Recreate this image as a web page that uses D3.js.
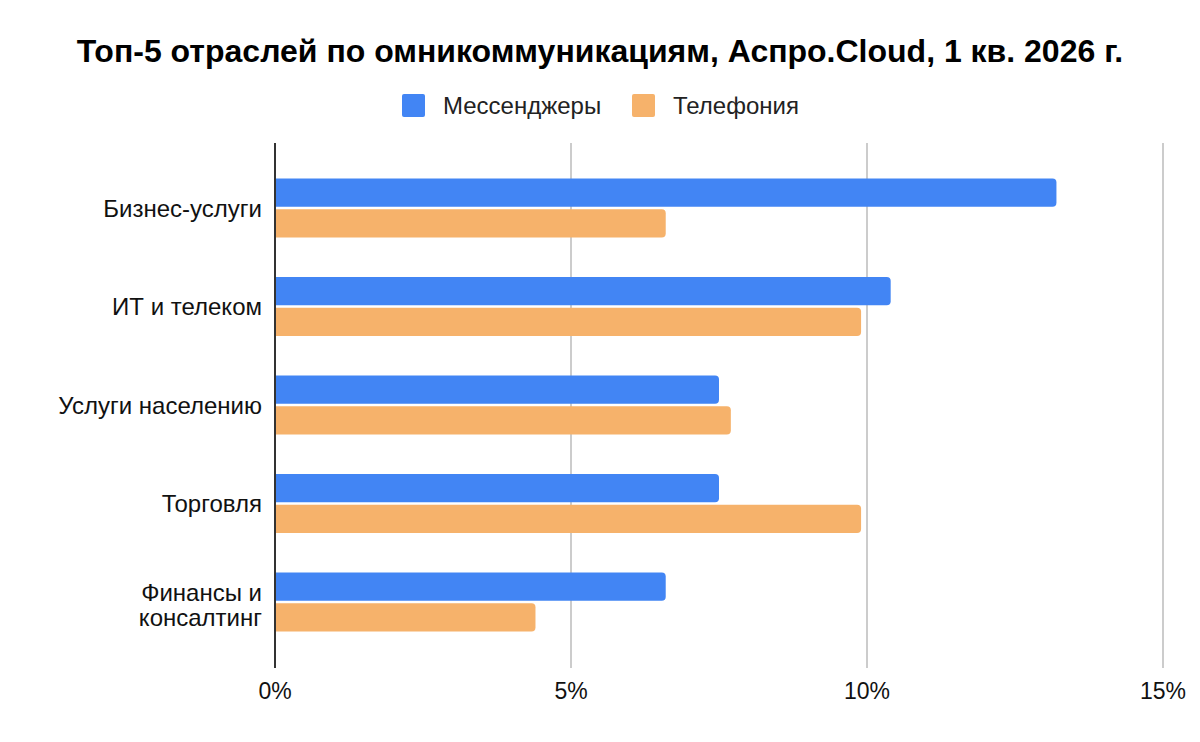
<!DOCTYPE html>
<html>
<head>
<meta charset="utf-8">
<script src="https://cdn.jsdelivr.net/npm/d3@7"></script>
<style>
  body { margin: 0; background: #fff; }
  svg { font-family: "Liberation Sans", Arial, sans-serif; }
</style>
</head>
<body>
<svg id="chart" width="1200" height="742"></svg>
<script>
const categories = ['Бизнес-услуги', 'ИТ и телеком', 'Услуги населению', 'Торговля', 'Финансы и\nконсалтинг'];
const seriesNames = ['Мессенджеры', 'Телефония'];
const messengers = [13.2, 10.4, 7.5, 7.5, 6.6];
const telephony = [6.6, 9.9, 7.7, 9.9, 4.4];
const xTicks = [0, 5, 10, 15];
const colors = ['#4285f4', '#f6b26b'];

const svg = d3.select('#chart');

const plot = {left: 275, right: 1163, top: 143, bottom: 668};

const x = d3.scaleLinear()
  .domain([0, 15])
  .range([plot.left, plot.right]);

const y = d3.scaleBand()
  .domain(categories)
  .range([158.75, 651.25])
  .paddingInner(0.4)
  .paddingOuter(0.2);

const sub = d3.scaleBand()
  .domain(seriesNames)
  .range([0, y.bandwidth()])
  .paddingInner(0.08);

// Title
svg.append('text')
  .attr('x', 600)
  .attr('y', 62)
  .attr('text-anchor', 'middle')
  .attr('font-size', 32)
  .attr('font-weight', 'bold')
  .attr('fill', '#000')
  .text('Топ-5 отраслей по омникоммуникациям, Аспро.Cloud, 1 кв. 2026 г.');

// Legend
const legendX = [402, 632];
const legend = svg.append('g')
  .selectAll('g')
  .data(seriesNames)
  .join('g')
  .attr('transform', (d, i) => `translate(${legendX[i]}, 94)`);

legend.append('rect')
  .attr('width', 23)
  .attr('height', 23)
  .attr('rx', 2)
  .attr('fill', (d, i) => colors[i]);

legend.append('text')
  .attr('x', 41)
  .attr('y', 20)
  .attr('font-size', 24)
  .attr('fill', '#222')
  .text(d => d);

// Grid lines
svg.append('g')
  .selectAll('line')
  .data(xTicks.filter(t => t > 0))
  .join('line')
  .attr('x1', d => x(d))
  .attr('x2', d => x(d))
  .attr('y1', plot.top)
  .attr('y2', plot.bottom)
  .attr('stroke', '#cccccc')
  .attr('stroke-width', 2);

// Tick labels
svg.append('g')
  .selectAll('text')
  .data(xTicks)
  .join('text')
  .attr('x', d => x(d))
  .attr('y', 699)
  .attr('text-anchor', 'middle')
  .attr('font-size', 23)
  .attr('fill', '#111')
  .text(d => d + '%');

// Bars, rounded on the right end only
function barPath(x0, x1, y0, h, r) {
  r = Math.min(r, (x1 - x0) / 2, h / 2);
  return `M${x0},${y0}H${x1 - r}Q${x1},${y0} ${x1},${y0 + r}V${y0 + h - r}Q${x1},${y0 + h} ${x1 - r},${y0 + h}H${x0}Z`;
}

const rows = categories.map((c, i) => ({cat: c, values: [messengers[i], telephony[i]]}));

const groups = svg.append('g')
  .selectAll('g')
  .data(rows)
  .join('g')
  .attr('transform', d => `translate(0, ${y(d.cat)})`);

groups.selectAll('path')
  .data(d => d.values.map((v, i) => ({name: seriesNames[i], value: v, i})))
  .join('path')
  .attr('fill', d => colors[d.i])
  .attr('d', d => barPath(x(0), x(d.value), sub(d.name), sub.bandwidth(), 4));

// Category labels
const labels = svg.append('g')
  .selectAll('text')
  .data(categories)
  .join('text')
  .attr('text-anchor', 'end')
  .attr('font-size', 24)
  .attr('fill', '#111')
  .attr('transform', d => `translate(262, ${y(d) + y.bandwidth() / 2})`);

labels.each(function (d) {
  const lines = d.split('\n');
  const t = d3.select(this);
  lines.forEach((ln, k) => {
    t.append('tspan')
      .attr('x', 0)
      .attr('y', (k - (lines.length - 1) / 2) * 25 + (lines.length > 1 ? 11 : 8.5))
      .text(ln);
  });
});

// Zero axis line
svg.append('line')
  .attr('x1', x(0))
  .attr('x2', x(0))
  .attr('y1', plot.top)
  .attr('y2', plot.bottom)
  .attr('stroke', '#333')
  .attr('stroke-width', 2);
</script>
</body>
</html>
